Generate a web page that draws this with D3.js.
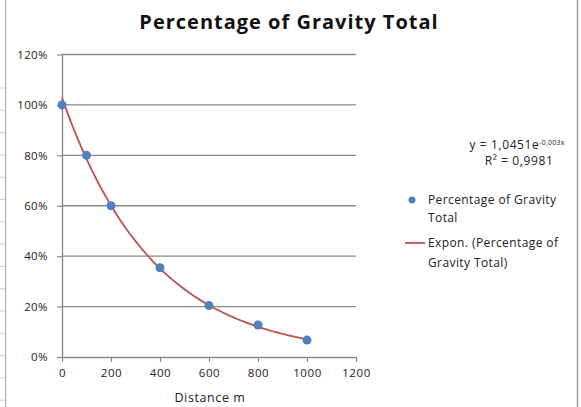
<!DOCTYPE html>
<html>
<head>
<meta charset="utf-8">
<script src="https://cdn.jsdelivr.net/npm/d3@7"></script>
<style>
  body { margin: 0; background: #fff; }
  svg { display: block; }
</style>
</head>
<body>
<div class="chart"></div>
<script>
// 데이터
const distances = [0, 100, 200, 400, 600, 800, 1000];
const gravityPct = [1.00, 0.80, 0.60, 0.354, 0.204, 0.127, 0.067];
const xTicks = [0, 200, 400, 600, 800, 1000, 1200];
const yTicks = [0, 0.2, 0.4, 0.6, 0.8, 1.0, 1.2];
const seriesName = 'Percentage of Gravity Total';
const equationText = ['y = 1,0451e', '-0,003x'];
const r2Text = 'R² = 0,9981';

const W = 581, H = 407;
const FONT = '"Open Sans", sans-serif';

const svg = d3.select('.chart').append('svg')
  .attr('width', W)
  .attr('height', H);

// 스프레드시트 테두리(왼쪽 행 구분선, 오른쪽 경계)
svg.append('line')
  .attr('x1', 5.5).attr('x2', 5.5).attr('y1', 0).attr('y2', H)
  .attr('stroke', '#b0b0b0').attr('stroke-width', 1.2);
svg.append('g')
  .selectAll('line')
  .data(d3.range(15))
  .join('line')
    .attr('x1', 0).attr('x2', 5)
    .attr('y1', i => 88 + i * 22.3).attr('y2', i => 88 + i * 22.3)
    .attr('stroke', '#d0d0d0');
svg.append('line')
  .attr('x1', 577.5).attr('x2', 577.5).attr('y1', 0).attr('y2', H)
  .attr('stroke', '#9a9a9a').attr('stroke-width', 1.5);

// 스케일
const x = d3.scaleLinear().domain([0, 1200]).range([62, 356]);
const y = d3.scaleLinear().domain([0, 1.2]).range([357, 54.5]);

// 그리드
svg.append('g')
  .selectAll('line')
  .data(yTicks.filter(d => d > 0))
  .join('line')
    .attr('x1', x(0)).attr('x2', x(1200))
    .attr('y1', d => y(d)).attr('y2', d => y(d))
    .attr('stroke', '#8a8a8a').attr('stroke-width', 1.4);

// y축
const yAxis = svg.append('g')
  .attr('transform', `translate(${x(0)},0)`)
  .call(d3.axisLeft(y).tickValues(yTicks).tickSize(5).tickSizeOuter(0).tickFormat(d3.format('.0%')));
yAxis.select('.domain').attr('stroke', '#8a8a8a').attr('stroke-width', 1.4);
yAxis.selectAll('.tick line').attr('stroke', '#8a8a8a').attr('stroke-width', 1.2);
yAxis.selectAll('.tick text')
  .attr('x', -14)
  .attr('font-family', FONT).attr('font-size', 11.5).attr('letter-spacing', 0.4).attr('fill', '#222');

// x축
const xAxis = svg.append('g')
  .attr('transform', `translate(0,${y(0)})`)
  .call(d3.axisBottom(x).tickValues(xTicks).tickSize(5).tickSizeOuter(0).tickFormat(d3.format('d')));
xAxis.select('.domain').attr('stroke', '#8a8a8a').attr('stroke-width', 1.4);
xAxis.selectAll('.tick line').attr('stroke', '#8a8a8a').attr('stroke-width', 1.2);
xAxis.selectAll('.tick text')
  .attr('y', 12)
  .attr('font-family', FONT).attr('font-size', 11.5).attr('letter-spacing', 0.6).attr('fill', '#222');

// 지수 추세선 (ln y 에 대한 최소제곱)
const lnY = gravityPct.map(v => Math.log(v));
const mx = d3.mean(distances), my = d3.mean(lnY);
const b = d3.sum(distances, (d, i) => (d - mx) * (lnY[i] - my)) / d3.sum(distances, d => (d - mx) ** 2);
const a = Math.exp(my - b * mx);
const trend = d3.range(0, 1001, 10).map(d => [d, a * Math.exp(b * d)]);

svg.append('path')
  .datum(trend)
  .attr('fill', 'none')
  .attr('stroke', '#C0504D')
  .attr('stroke-width', 1.8)
  .attr('d', d3.line().x(d => x(d[0])).y(d => y(d[1])).curve(d3.curveMonotoneX));

// 점
svg.append('g')
  .selectAll('circle')
  .data(distances)
  .join('circle')
    .attr('cx', d => x(d))
    .attr('cy', (d, i) => y(gravityPct[i]))
    .attr('r', 4.5)
    .attr('fill', '#4F81BD');

// 제목
svg.append('text')
  .attr('x', 289).attr('y', 29)
  .attr('text-anchor', 'middle')
  .attr('font-family', FONT).attr('font-size', 20).attr('font-weight', 'bold')
  .attr('letter-spacing', 1).attr('fill', '#111')
  .text(seriesName);

// x축 제목
svg.append('text')
  .attr('x', 210).attr('y', 402)
  .attr('text-anchor', 'middle')
  .attr('font-family', FONT).attr('font-size', 12.5).attr('letter-spacing', 0.6).attr('fill', '#222')
  .text('Distance m');

// 추세식
const eq = svg.append('text')
  .attr('x', 517).attr('y', 149)
  .attr('text-anchor', 'middle')
  .attr('font-family', FONT).attr('font-size', 12).attr('letter-spacing', 0.6).attr('fill', '#222');
eq.append('tspan').text(equationText[0]);
eq.append('tspan').attr('dy', -4).attr('font-size', 7).attr('letter-spacing', 0.2).text(equationText[1]);
svg.append('text')
  .attr('x', 519).attr('y', 165)
  .attr('text-anchor', 'middle')
  .attr('font-family', FONT).attr('font-size', 12).attr('letter-spacing', 0.6).attr('fill', '#222')
  .text(r2Text);

// 범례
const legend = svg.append('g')
  .attr('font-family', FONT).attr('font-size', 12).attr('letter-spacing', 0.4).attr('fill', '#222');
legend.append('circle')
  .attr('cx', 412).attr('cy', 200).attr('r', 3.5).attr('fill', '#4F81BD');
legend.append('text').attr('x', 428).attr('y', 204).text('Percentage of Gravity');
legend.append('text').attr('x', 428).attr('y', 222).text('Total');
legend.append('line')
  .attr('x1', 405).attr('x2', 425).attr('y1', 243).attr('y2', 243)
  .attr('stroke', '#C0504D').attr('stroke-width', 1.8);
legend.append('text').attr('x', 428).attr('y', 247).text('Expon. (Percentage of');
legend.append('text').attr('x', 428).attr('y', 267).text('Gravity Total)');
</script>
</body>
</html>
